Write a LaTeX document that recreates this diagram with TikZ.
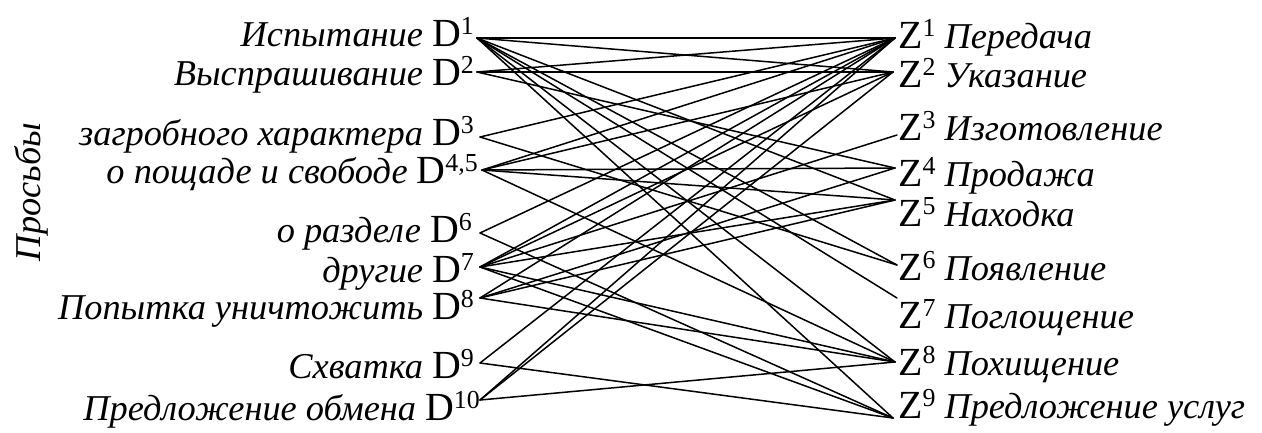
\documentclass[tikz,border=0pt]{standalone}
\usepackage{fontspec}
\setmainfont{Liberation Serif}
\newcommand{\lt}[1]{{\fontsize{36.5}{38}\selectfont\itshape #1}}
\newcommand{\ld}[2]{{\fontsize{40}{42}\selectfont #1}{\fontsize{26}{28}\selectfont\raisebox{12bp}{#2}}}
\newcommand{\gap}{\hspace{9bp}}
\begin{document}
\begin{tikzpicture}[x=1bp,y=-1bp,
  lbl/.style={inner sep=0pt},
  conn/.style={line width=1.5bp, line cap=round}]
\useasboundingbox (0,0) rectangle (1262,432);
% left labels
\node[lbl, anchor=base east] (l1) at (474,46) {\lt{Испытание}\gap\ld{D}{1}};
\node[lbl, anchor=base east] (l2) at (474,85) {\lt{Выспрашивание}\gap\ld{D}{2}};
\node[lbl, anchor=base east] (l3) at (474,145) {\lt{загробного характера}\gap\ld{D}{3}};
\node[lbl, anchor=base east] (l4) at (478,183) {\lt{о пощаде и свободе}\gap\ld{D}{4,5}};
\node[lbl, anchor=base east] (l6) at (472,242) {\lt{о разделе}\gap\ld{D}{6}};
\node[lbl, anchor=base east] (l7) at (474,282) {\lt{другие}\gap\ld{D}{7}};
\node[lbl, anchor=base east] (l8) at (474,319) {\lt{Попытка уничтожить}\gap\ld{D}{8}};
\node[lbl, anchor=base east] (l9) at (474,378) {\lt{Схватка}\gap\ld{D}{9}};
\node[lbl, anchor=base east] (l10) at (480,420) {\lt{Предложение обмена}\gap\ld{D}{10}};
\node[lbl, rotate=90, anchor=base] (pr) at (40,192) {\lt{Просьбы}};
% right labels
\node[lbl, anchor=base west] (r1) at (898,48) {\ld{Z}{1}\gap\lt{Передача}};
\node[lbl, anchor=base west] (r2) at (898,87) {\ld{Z}{2}\gap\lt{Указание}};
\node[lbl, anchor=base west] (r3) at (898,140) {\ld{Z}{3}\gap\lt{Изготовление}};
\node[lbl, anchor=base west] (r4) at (898,186) {\ld{Z}{4}\gap\lt{Продажа}};
\node[lbl, anchor=base west] (r5) at (898,226) {\ld{Z}{5}\gap\lt{Находка}};
\node[lbl, anchor=base west] (r6) at (898,280) {\ld{Z}{6}\gap\lt{Появление}};
\node[lbl, anchor=base west] (r7) at (898,328) {\ld{Z}{7}\gap\lt{Поглощение}};
\node[lbl, anchor=base west] (r8) at (898,375) {\ld{Z}{8}\gap\lt{Похищение}};
\node[lbl, anchor=base west] (r9) at (898,418) {\ld{Z}{9}\gap\lt{Предложение услуг}};
% tips
\coordinate (D1) at (477,38);
\coordinate (D2) at (477,72);
\coordinate (D3) at (480,137);
\coordinate (D4) at (482,170);
\coordinate (D6) at (480,233);
\coordinate (D7) at (480,267);
\coordinate (D8) at (480,298);
\coordinate (D9) at (480,363);
\coordinate (D10) at (480,400);
\coordinate (Z1) at (895,38);
\coordinate (Z2) at (893,72);
\coordinate (Z3) at (897,135);
\coordinate (Z4) at (895,168);
\coordinate (Z5) at (895,200);
\coordinate (Z6) at (897,265);
\coordinate (Z7) at (897,298);
\coordinate (Z8) at (895,362);
\coordinate (Z9) at (893,418);
% connectors
\foreach \a/\b in {D1/Z1,D1/Z2,D1/Z5,D1/Z6,D1/Z7,D1/Z8,D1/Z9,
  D2/Z1,D2/Z2,D2/Z4,
  D3/Z1,D3/Z6,
  D4/Z1,D4/Z2,D4/Z4,D4/Z5,D4/Z8,
  D6/Z1,D6/Z9,
  D7/Z1,D7/Z2,D7/Z3,D7/Z5,D7/Z8,D7/Z9,
  D8/Z1,D8/Z4,D8/Z5,D8/Z8,
  D9/Z1,D9/Z9,
  D10/Z1,D10/Z2,D10/Z8}
  \draw[conn] (\a) -- (\b);
\end{tikzpicture}
\end{document}
